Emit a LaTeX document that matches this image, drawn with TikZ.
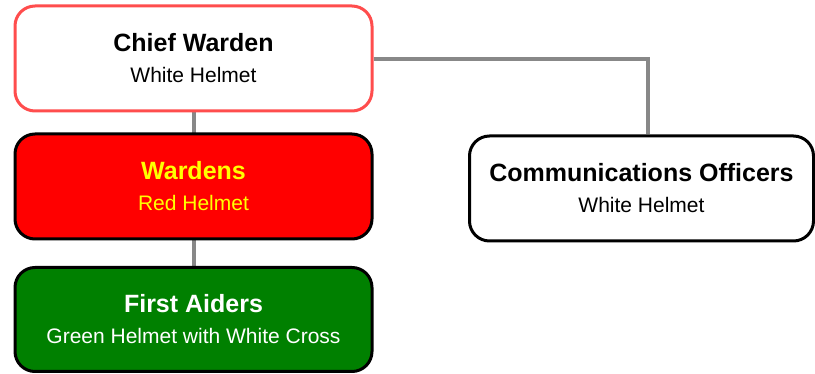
\documentclass[tikz,border=0pt]{standalone}
\usepackage{fontspec}
\setmainfont{Liberation Sans}
\definecolor{chiefred}{HTML}{FF4D4D}
\definecolor{wardred}{HTML}{FF0000}
\definecolor{aidgreen}{HTML}{008000}
\definecolor{linkgray}{HTML}{888888}
\definecolor{helmyellow}{HTML}{FFFF00}
\newcommand{\boldline}[1]{{\fontsize{25}{30}\selectfont\bfseries #1}}
\newcommand{\plainline}[1]{#1}
\tikzset{
  rolebox/.style={draw=black, line width=3pt, rounded corners=20pt, align=center,
    minimum width=357pt, minimum height=105pt, inner sep=0pt,
    font=\fontsize{21}{31}\selectfont},
  link/.style={draw=linkgray, line width=4pt},
}
\begin{document}
\begin{tikzpicture}[x=1pt,y=-1pt]
\useasboundingbox (0,0) rectangle (815,374);
\draw[link] (193.5,58) -- (193.5,320);
\node[rolebox, draw=chiefred, fill=white] (chief) at (193.5,58.5)
  {\boldline{Chief Warden}\\\plainline{White Helmet}};
\node[rolebox, fill=wardred, text=helmyellow] (wardens) at (193.5,186.5)
  {\boldline{Wardens}\\\plainline{Red Helmet}};
\node[rolebox, fill=aidgreen, text=white, minimum height=104pt] (aiders) at (193.5,319.5)
  {\boldline{First Aiders}\\\plainline{Green Helmet with White Cross}};
\node[rolebox, fill=white, minimum width=344pt] (comms) at (641.5,188.5)
  {\boldline{Communications Officers}\\\plainline{White Helmet}};
\coordinate (bend) at (647.5,59);
\draw[link] (chief.east |- bend) -- (bend) -- (bend |- comms.north);
\end{tikzpicture}
\end{document}
